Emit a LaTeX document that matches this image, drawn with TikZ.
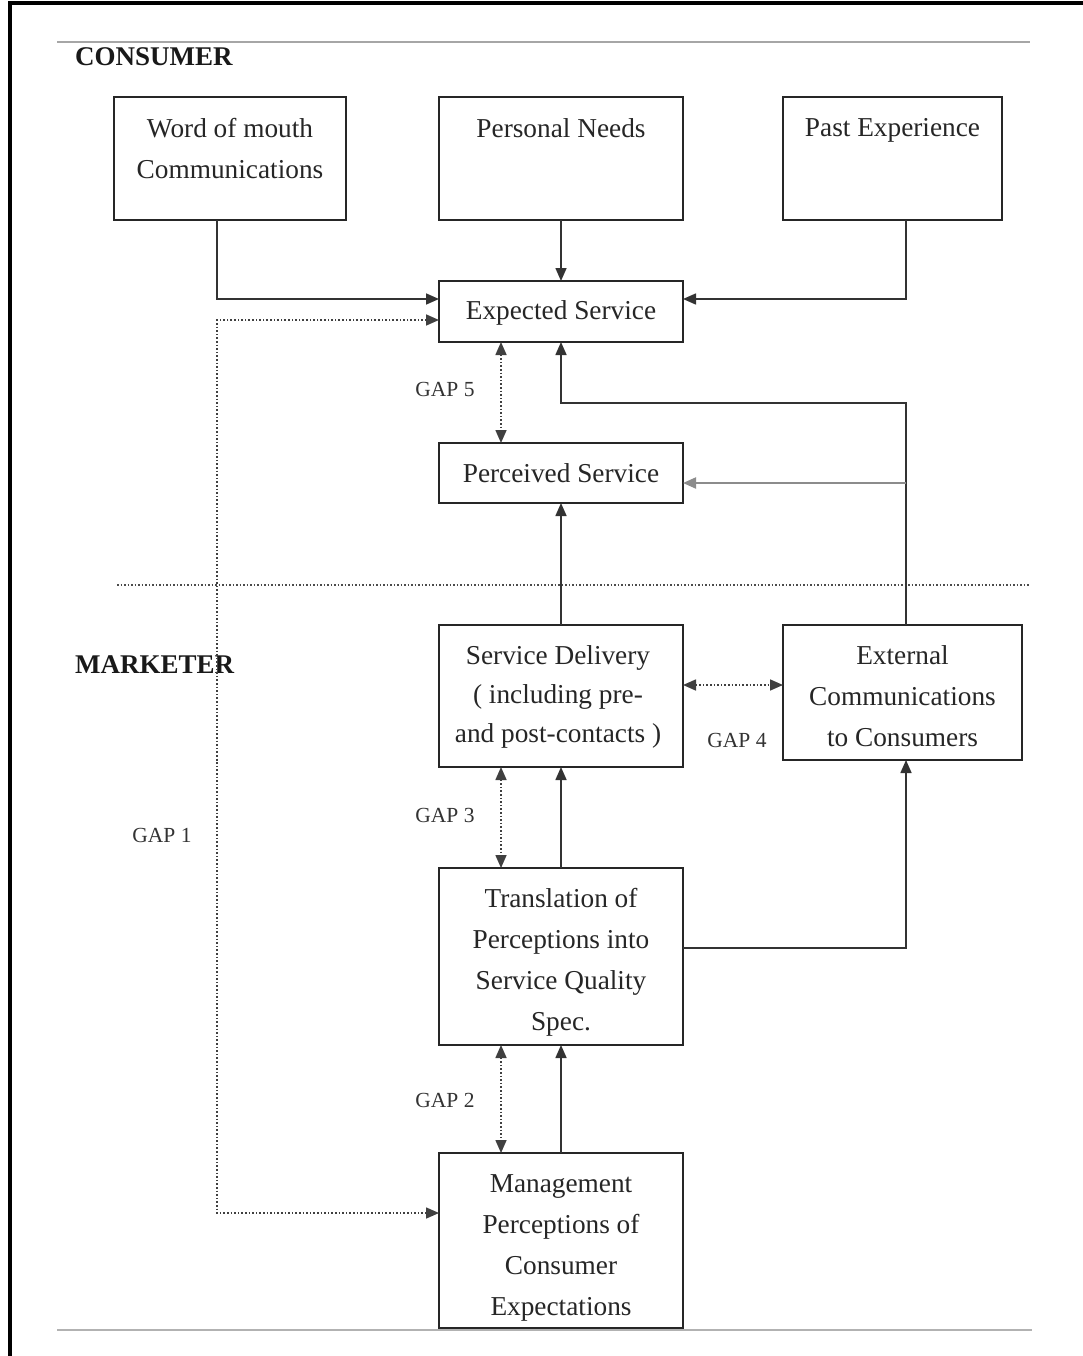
\documentclass[tikz,border=0pt]{standalone}
\usepackage{fontspec}
\setmainfont{Liberation Serif}
\usetikzlibrary{arrows.meta}
\begin{document}
\begin{tikzpicture}[x=1pt,y=-1pt,
  box/.style={draw=black!85, line width=2pt, inner sep=0pt, outer sep=0pt},
  txt/.style={inner sep=0pt, align=center, text=black!85, font=\fontsize{27.3}{41}\selectfont},
  gap/.style={inner sep=0pt, font=\fontsize{21.5}{25}\selectfont, text=black!80},
  head/.style={inner sep=0pt, anchor=west, text=black!90, font=\fontsize{27}{30}\selectfont\bfseries},
  tip/.style={-{Triangle[length=13pt,width=11pt]}},
  conn/.style={draw=black!80, line width=1.6pt, tip},
  dots/.style={draw=black!75, line width=1.6pt, dotted, {Triangle[length=13pt,width=11pt]}-{Triangle[length=13pt,width=11pt]}},
]
\useasboundingbox (0,0) rectangle (1083,1356);
\fill[white] (0,0) rectangle (1083,1356);
% frame and rules
\draw[black, line width=3.5pt] (10,1356) -- (10,3) -- (1083,3);
\draw[black!35, line width=2pt] (57,42) -- (1030,42);
\draw[black!30, line width=2pt] (57,1330) -- (1032,1330);
\draw[black!70, line width=1.5pt, dotted] (117,585) -- (1030,585);
% headings
\node[head] (cons) at (75,57) {CONSUMER};
\node[head] (mark) at (75,665) {MARKETER};
% boxes
\node[box, minimum width=232pt, minimum height=123pt] (wom) at (230,158.5) {};
\node[txt, anchor=north] (womt) at (230,118) {Word of mouth\\Communications};
\node[box, minimum width=244pt, minimum height=123pt] (pn) at (561,158.5) {};
\node[txt, anchor=north] (pnt) at (561,118) {Personal Needs};
\node[box, minimum width=219pt, minimum height=123pt] (pe) at (892.5,158.5) {};
\node[txt, anchor=north] (pet) at (892.5,118) {Past Experience};
\node[box, minimum width=244pt, minimum height=61pt] (exp) at (561,311.5) {};
\node[txt] (expt) at (561,313) {Expected Service};
\node[box, minimum width=244pt, minimum height=60pt] (per) at (561,473) {};
\node[txt] (pert) at (561,473) {Perceived Service};
\node[box, minimum width=244pt, minimum height=142pt] (sd) at (561,696) {};
\node[txt, font=\fontsize{27.3}{39}\selectfont] (sdt) at (558,697) {Service Delivery\\( including pre-\\and post-contacts )};
\node[box, minimum width=239pt, minimum height=135pt] (ext) at (902.5,692.5) {};
\node[txt] (extt) at (902.5,696) {External\\Communications\\to Consumers};
\node[box, minimum width=244pt, minimum height=177pt] (tr) at (561,956.5) {};
\node[txt] (trt) at (561,962) {Translation of\\Perceptions into\\Service Quality\\Spec.};
\node[box, minimum width=244pt, minimum height=175pt] (mg) at (561,1240.5) {};
\node[txt] (mgt) at (561,1247.5) {Management\\Perceptions of\\Consumer\\Expectations};
% gap labels
\node[gap] (g5) at (445,389) {GAP 5};
\node[gap] (g4) at (737,740) {GAP 4};
\node[gap] (g3) at (445,815) {GAP 3};
\node[gap] (g2) at (445,1100) {GAP 2};
\node[gap] (g1) at (162,835) {GAP 1};
% connectors
\draw[conn] ([xshift=-13pt]wom.south) |- (exp.west |- 0,299);
\draw[conn] (pn.south) -- (exp.north);
\draw[conn] ([xshift=13.5pt]pe.south) |- (exp.east |- 0,299);
\draw[dots] (exp.west |- 0,320) -| (217,760) |- (mg.west |- 0,1213);
\draw[dots] (exp.south -| 501,0) -- (per.north -| 501,0);
\coordinate (pj) at (906,483);
\draw[conn] ([xshift=3.5pt]ext.north) |- (561,403) -- (exp.south);
\draw[conn, draw=black!45, line width=2pt] (pj) -- (per.east |- pj);
\draw[conn] (sd.north) -- (per.south);
\draw[dots] (sd.east |- 0,685) -- (ext.west |- 0,685);
\draw[dots] (sd.south -| 501,0) -- (tr.north -| 501,0);
\draw[conn] (tr.north) -- (sd.south);
\draw[conn] (tr.east |- 0,948) -| ([xshift=3.5pt]ext.south);
\draw[dots] (tr.south -| 501,0) -- (mg.north -| 501,0);
\draw[conn] (mg.north) -- (tr.south);
\end{tikzpicture}
\end{document}
